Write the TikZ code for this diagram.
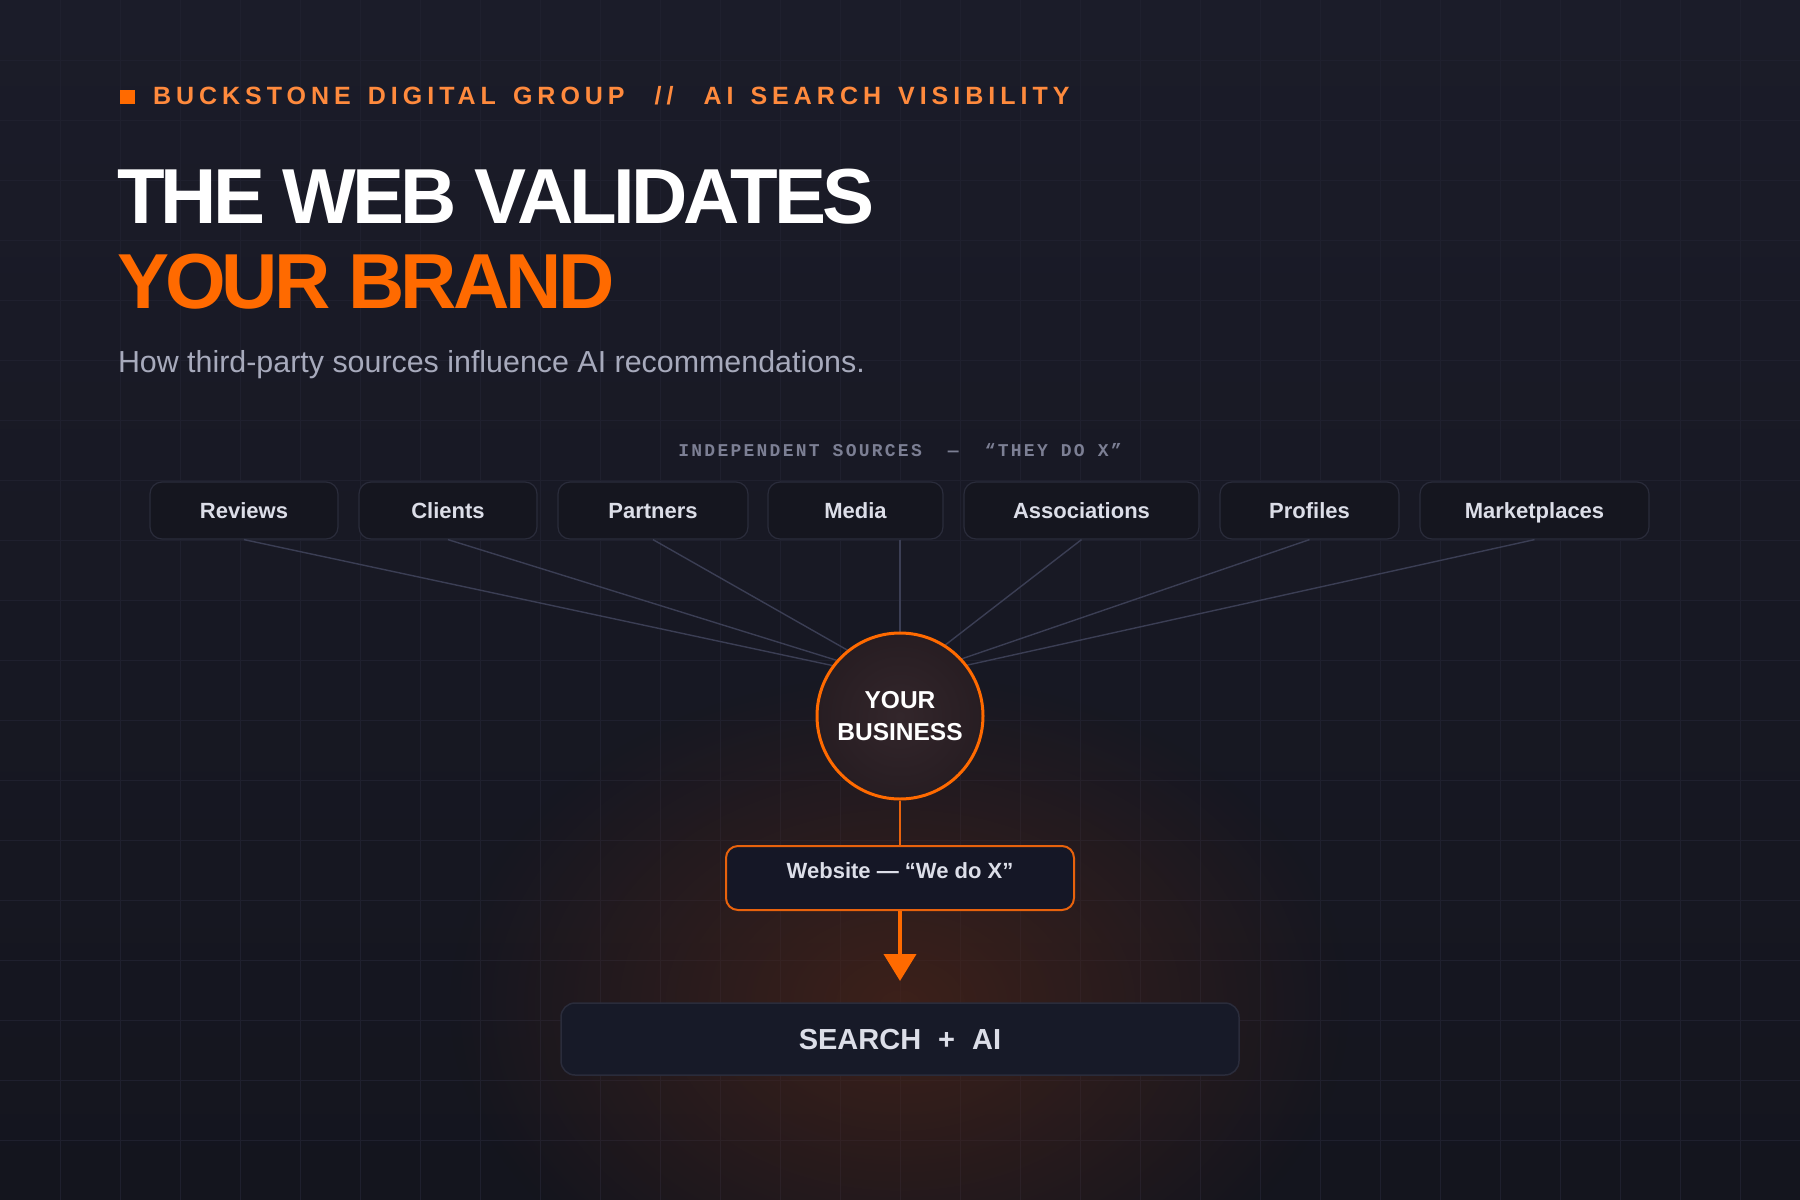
\documentclass[tikz,border=0pt]{standalone}
\usepackage{fontspec}
\setmainfont{Liberation Sans}
\newfontfamily\monofont{Liberation Mono}
\usetikzlibrary{arrows.meta,fadings}
\tikzfading[name=glowfade, inner color=transparent!0, outer color=transparent!100]
\newcommand\hsp{\hspace{17pt}}
\newcommand\hspp{\hspace{30pt}}
\definecolor{bgtop}{HTML}{1B1C29}
\definecolor{bgbot}{HTML}{14151E}
\definecolor{gridc}{HTML}{1F202E}
\definecolor{brand}{HTML}{FF6A00}
\definecolor{brandline}{HTML}{E8620C}
\definecolor{hdr}{HTML}{FF8A3D}
\definecolor{subt}{HTML}{A7AABC}
\definecolor{monoc}{HTML}{7C7F94}
\definecolor{boxfill}{HTML}{15161F}
\definecolor{boxedge}{HTML}{2A2C3B}
\definecolor{boxtext}{HTML}{DCDEE8}
\definecolor{linkc}{HTML}{3B3E54}
\definecolor{glowc}{HTML}{4A2418}
\definecolor{webfill}{HTML}{151726}
\definecolor{searchfill}{HTML}{171A28}
\definecolor{bizin}{HTML}{33262B}
\definecolor{bizout}{HTML}{271D22}
\begin{document}
\begin{tikzpicture}[x=1pt,y=-1pt,
  src/.style={draw=boxedge, line width=1.2pt, fill=boxfill, rounded corners=12pt,
    minimum height=57pt, inner sep=0pt, text=boxtext, text height=16pt, text depth=0pt,
    font=\fontsize{22}{26}\selectfont\bfseries},
  link/.style={draw=linkc, line width=1.4pt},
  plain/.style={inner sep=0pt, outer sep=0pt}
]
% background
\useasboundingbox (0,0) rectangle (1800,1200);
\shade[top color=bgtop, bottom color=bgbot] (0,0) rectangle (1800,1200);
\foreach \gx in {60,120,...,1740} \draw[gridc, line width=1pt] (\gx,0) -- (\gx,1200);
\foreach \gy in {60,120,...,1140} \draw[gridc, line width=1pt] (0,\gy) -- (1800,\gy);
\begin{scope}
\clip (0,0) rectangle (1800,1200);
\fill[glowc, path fading=glowfade, opacity=0.75] (900,1005) ellipse [x radius=450pt, y radius=330pt];
\end{scope}

% header
\node[plain, fill=brand, minimum width=15pt, minimum height=14pt] (sq) at (127.5,97) {};
\node[plain, anchor=base west, text=hdr,
  font=\fontsize{25}{30}\selectfont\bfseries\addfontfeatures{LetterSpace=20}] (kicker) at (153,104)
  {BUCKSTONE\hsp DIGITAL\hsp GROUP\hspp//\hspp AI\hsp SEARCH\hsp VISIBILITY};
\node[plain, anchor=base west, text=white,
  font=\fontsize{78}{78}\selectfont\bfseries\addfontfeatures{LetterSpace=-5}] (title1) at (117,223)
  {THE WEB VALIDATES};
\node[plain, anchor=base west, text=brand,
  font=\fontsize{78}{78}\selectfont\bfseries\addfontfeatures{LetterSpace=-5}] (title2) at (117,308)
  {YOUR BRAND};
\node[plain, anchor=base west, text=subt, font=\fontsize{30.4}{36}\selectfont] (subtitle) at (118,372)
  {How third-party sources influence AI recommendations.};

% sources label
\node[plain, anchor=base, text=monoc,
  font=\fontsize{18}{20}\monofont\bfseries\addfontfeatures{LetterSpace=12.5}] (srclabel) at (900,456)
  {INDEPENDENT SOURCES\ \ —\ \ “THEY DO X”};

% source boxes
\node[src, minimum width=188pt] (reviews) at (244,510.5) {Reviews};
\node[src, minimum width=178pt] (clients) at (448,510.5) {Clients};
\node[src, minimum width=190pt] (partners) at (653,510.5) {Partners};
\node[src, minimum width=175pt] (media) at (855.5,510.5) {Media};
\node[src, minimum width=235pt] (assoc) at (1081.5,510.5) {Associations};
\node[src, minimum width=179pt] (profiles) at (1309.5,510.5) {Profiles};
\node[src, minimum width=229pt] (market) at (1534.5,510.5) {Marketplaces};

% connectors to hub
\coordinate (hub) at (900,680);
\foreach \n in {reviews,clients,partners,assoc,profiles,market}
  \draw[link] (\n.south) -- (hub);
\draw[link] (media.south -| hub) -- (hub);

% your business
\node[circle, draw=brand, line width=3pt, minimum size=166pt, inner sep=0pt,
  shading=radial, inner color=bizin, outer color=bizout,
  align=center, text=white, font=\fontsize{24.5}{32}\selectfont\bfseries] (biz) at (900,716)
  {YOUR\\BUSINESS};

% website
\node[draw=brandline, line width=2pt, fill=webfill, rounded corners=12pt,
  minimum width=348pt, minimum height=64pt, inner sep=0pt, text=boxtext,
  text height=16pt, text depth=16pt, font=\fontsize{22}{26}\selectfont\bfseries] (web) at (900,878)
  {Website — “We do X”};
\draw[brandline, line width=2.5pt] (biz.south) -- (web.north);

% search + ai
\node[draw=boxedge, line width=1.5pt, fill=searchfill, rounded corners=14pt,
  minimum width=678pt, minimum height=72pt, inner sep=0pt, text=boxtext,
  text height=21pt, text depth=0pt, font=\fontsize{29}{34}\selectfont\bfseries] (search) at (900,1039)
  {SEARCH\hspace{17pt}+\hspace{17pt}AI};

\coordinate (tip) at (900,981);
\draw[brand, line width=4pt, -{Triangle[width=32pt,length=27pt]}] (web.south) -- (tip);
\end{tikzpicture}
\end{document}
